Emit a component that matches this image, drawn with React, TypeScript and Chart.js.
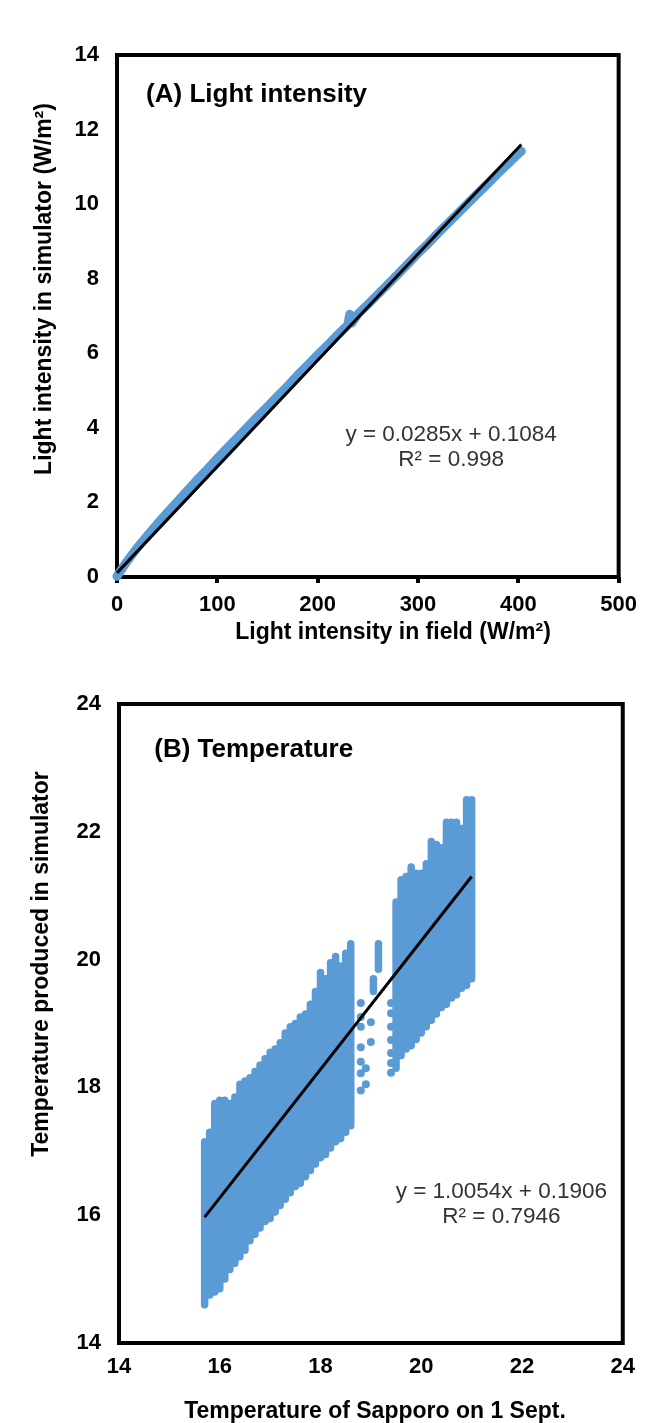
import React, { useEffect, useRef } from "react";
import { Chart, registerables } from "chart.js";

Chart.register(...registerables);

const BLUE = "#5B9BD5";
const FONT = '"Liberation Sans", Arial, Helvetica, sans-serif';

// ---------- Panel A: light intensity ----------
const lightField = [0, 5, 10, 20, 30, 40, 50, 60, 70, 80, 90, 100, 110, 120, 130, 140, 150, 160, 170, 180, 190, 200, 210, 220, 230, 232, 234, 240, 250, 260, 270, 280, 290, 300, 310, 320, 330, 340, 350, 360, 370, 380, 390, 400, 403];
const lightSimulator = [0.02, 0.22, 0.42, 0.78, 1.1, 1.42, 1.72, 2.02, 2.31, 2.61, 2.89, 3.18, 3.46, 3.74, 4.02, 4.3, 4.57, 4.85, 5.12, 5.41, 5.68, 5.96, 6.22, 6.5, 6.76, 7.05, 6.81, 7.05, 7.31, 7.58, 7.85, 8.12, 8.4, 8.68, 8.94, 9.22, 9.49, 9.76, 10.03, 10.3, 10.56, 10.83, 11.09, 11.35, 11.42];
const trendAX = [0, 403];
const trendAY = [0.11, 11.6];
const axisA = { xMin: 0, xMax: 500, xStep: 100, yMin: 0, yMax: 14, yStep: 2 };
const equationA = ["y = 0.0285x + 0.1084", "R² = 0.998"];

// ---------- Panel B: temperature ----------
const tempColumnX = [15.7, 15.8, 15.9, 16.0, 16.1, 16.2, 16.3, 16.4, 16.5, 16.6, 16.7, 16.8, 16.9, 17.0, 17.1, 17.2, 17.3, 17.4, 17.5, 17.6, 17.7, 17.8, 17.9, 18.0, 18.1, 18.2, 18.3, 18.4, 18.5, 18.6, 19.05, 19.15, 19.5, 19.6, 19.7, 19.8, 19.9, 20.0, 20.1, 20.2, 20.3, 20.4, 20.5, 20.6, 20.7, 20.8, 20.9, 21.0];
const tempColumnLow = [14.6, 14.75, 14.8, 14.85, 15.0, 15.15, 15.25, 15.35, 15.45, 15.6, 15.7, 15.8, 15.9, 15.95, 16.05, 16.15, 16.25, 16.35, 16.45, 16.5, 16.6, 16.7, 16.8, 16.9, 16.95, 17.05, 17.15, 17.2, 17.3, 17.4, 19.5, 19.85, 18.3, 18.5, 18.6, 18.65, 18.75, 18.85, 18.95, 19.05, 19.15, 19.25, 19.3, 19.4, 19.45, 19.55, 19.6, 19.7];
const tempColumnHigh = [17.15, 17.3, 17.75, 17.8, 17.8, 17.75, 17.85, 18.05, 18.1, 18.15, 18.25, 18.35, 18.45, 18.55, 18.6, 18.7, 18.85, 18.95, 19.0, 19.1, 19.15, 19.3, 19.5, 19.8, 19.7, 19.95, 20.05, 19.9, 20.1, 20.25, 19.7, 20.25, 20.9, 21.25, 21.3, 21.45, 21.35, 21.35, 21.5, 21.85, 21.8, 21.75, 22.15, 22.15, 22.15, 22.05, 22.5, 22.5];
const tempSparseX = [18.8, 18.8, 18.8, 18.8, 18.8, 18.8, 18.8, 18.9, 18.9, 19.0, 19.0, 19.4, 19.4, 19.4, 19.4, 19.4, 19.4, 19.4];
const tempSparseY = [17.95, 18.22, 18.4, 18.63, 18.95, 19.1, 19.32, 18.05, 18.3, 18.71, 19.02, 18.23, 18.38, 18.54, 18.74, 18.95, 19.16, 19.32];
const trendBX = [15.7, 21.0];
const trendBY = [15.97, 21.3];
const axisB = { xMin: 14, xMax: 24, xStep: 2, yMin: 14, yMax: 24, yStep: 2 };
const equationB = ["y = 1.0054x + 0.1906", "R² = 0.7946"];

type TextItem = {
  text: string;
  x: number;
  y: number;
  font: string;
  color: string;
  align: CanvasTextAlign;
  rotate?: boolean;
  data?: boolean;
};

function textPlugin(items: TextItem[]) {
  return {
    id: "freeTexts",
    afterDraw(chart: any) {
      const ctx = chart.ctx;
      items.forEach((t) => {
        let px = t.x;
        let py = t.y;
        if (t.data) {
          px = chart.scales.x.getPixelForValue(t.x);
          py = chart.scales.y.getPixelForValue(t.y);
        }
        ctx.save();
        ctx.font = t.font;
        ctx.fillStyle = t.color;
        ctx.textAlign = t.align;
        ctx.textBaseline = "middle";
        ctx.translate(px, py);
        if (t.rotate) ctx.rotate(-Math.PI / 2);
        ctx.fillText(t.text, 0, 0);
        ctx.restore();
      });
    },
  };
}

const framePlugin = {
  id: "frame",
  beforeDatasetsDraw(chart: any) {
    const { ctx, chartArea } = chart;
    ctx.save();
    ctx.strokeStyle = "#000";
    ctx.lineWidth = 4;
    ctx.strokeRect(chartArea.left, chartArea.top, chartArea.right - chartArea.left, chartArea.bottom - chartArea.top);
    ctx.restore();
  },
};

const tickFont = { family: FONT, size: 22, weight: "bold" as const };
const titleFont = `bold 23px ${FONT}`;
const panelFont = `bold 26px ${FONT}`;
const eqFont = `22.5px ${FONT}`;

function makeScales(ax: any, yWidth: number, xHeight: number, xTickMarks: boolean, xPad: number) {
  return {
    x: {
      type: "linear",
      min: ax.xMin,
      max: ax.xMax,
      ticks: { stepSize: ax.xStep, font: tickFont, color: "#000", padding: xPad, maxRotation: 0 },
      grid: {
        display: xTickMarks,
        drawOnChartArea: false,
        drawTicks: xTickMarks,
        tickLength: 6,
        lineWidth: 4,
        color: "#000",
      },
      border: { display: false },
      afterFit: (s: any) => {
        s.height = xHeight;
      },
    },
    y: {
      type: "linear",
      min: ax.yMin,
      max: ax.yMax,
      ticks: { stepSize: ax.yStep, font: tickFont, color: "#000", padding: 18 },
      grid: { display: false, drawTicks: false },
      border: { display: false },
      afterFit: (s: any) => {
        s.width = yWidth;
      },
    },
  };
}

export default function App() {
  const refA = useRef<HTMLCanvasElement>(null);
  const refB = useRef<HTMLCanvasElement>(null);

  useEffect(() => {
    const bandA = lightField.map((x, i) => ({ x, y: lightSimulator[i] }));
    const lineA = trendAX.map((x, i) => ({ x, y: trendAY[i] }));

    const textsA: TextItem[] = [
      { text: "(A) Light intensity", x: 29, y: 12.93, font: panelFont, color: "#000", align: "left", data: true },
      { text: equationA[0], x: 333, y: 3.81, font: eqFont, color: "#333", align: "center", data: true },
      { text: equationA[1], x: 333, y: 3.14, font: eqFont, color: "#333", align: "center", data: true },
      { text: "Light intensity in field (W/m²)", x: 393, y: 633, font: titleFont, color: "#000", align: "center" },
      { text: "Light intensity in simulator (W/m²)", x: 45, y: 289, font: titleFont, color: "#000", align: "center", rotate: true },
    ];

    const chartA = new Chart(refA.current as HTMLCanvasElement, {
      type: "line",
      data: {
        datasets: [
          {
            data: lineA,
            borderColor: "#000",
            borderWidth: 3,
            pointRadius: 0,
            clip: false,
          },
          {
            data: bandA,
            borderColor: BLUE,
            borderWidth: 9,
            borderCapStyle: "round",
            borderJoinStyle: "round",
            pointRadius: 0,
            clip: false,
          },
        ],
      } as any,
      options: {
        animation: false,
        responsive: false,
        maintainAspectRatio: false,
        events: [],
        layout: { padding: { left: 0, right: 19, top: 55, bottom: 23 } },
        plugins: { legend: { display: false }, tooltip: { enabled: false } },
        scales: makeScales(axisA, 117, 60, true, 9) as any,
      },
      plugins: [framePlugin, textPlugin(textsA)],
    });

    const columns: any[] = [];
    tempColumnX.forEach((x, i) => {
      columns.push({ x, y: tempColumnLow[i] }, { x, y: tempColumnHigh[i] }, { x, y: null });
    });
    const sparse = tempSparseX.map((x, i) => ({ x, y: tempSparseY[i] }));
    const lineB = trendBX.map((x, i) => ({ x, y: trendBY[i] }));

    const textsB: TextItem[] = [
      { text: "(B) Temperature", x: 14.7, y: 23.28, font: panelFont, color: "#000", align: "left", data: true },
      { text: equationB[0], x: 21.59, y: 16.36, font: eqFont, color: "#333", align: "center", data: true },
      { text: equationB[1], x: 21.59, y: 15.97, font: eqFont, color: "#333", align: "center", data: true },
      { text: "Temperature of Sapporo on 1 Sept.", x: 375, y: 752, font: titleFont, color: "#000", align: "center" },
      { text: "Temperature produced in simulator", x: 42, y: 304, font: titleFont, color: "#000", align: "center", rotate: true },
    ];

    const chartB = new Chart(refB.current as HTMLCanvasElement, {
      type: "line",
      data: {
        datasets: [
          {
            data: lineB,
            borderColor: "#000",
            borderWidth: 3,
            pointRadius: 0,
          },
          {
            data: sparse,
            showLine: false,
            pointRadius: 4,
            pointBorderWidth: 0,
            pointBackgroundColor: BLUE,
            borderColor: BLUE,
          },
          {
            data: columns,
            borderColor: BLUE,
            borderWidth: 7.5,
            borderCapStyle: "round",
            borderJoinStyle: "round",
            pointRadius: 0,
            spanGaps: false,
          },
        ],
      } as any,
      options: {
        animation: false,
        responsive: false,
        maintainAspectRatio: false,
        events: [],
        layout: { padding: { left: 0, right: 13, top: 44, bottom: 20 } },
        plugins: { legend: { display: false }, tooltip: { enabled: false } },
        scales: makeScales(axisB, 119, 60, false, 11) as any,
      },
      plugins: [framePlugin, textPlugin(textsB)],
    });

    return () => {
      chartA.destroy();
      chartB.destroy();
    };
  }, []);

  return (
    <div style={{ position: "absolute", left: 0, top: 0, width: 646, height: 1423, background: "#fff" }}>
      <canvas ref={refA} width={646} height={660} style={{ position: "absolute", left: 0, top: 0, width: 646, height: 660, display: "block" }} />
      <canvas ref={refB} width={646} height={763} style={{ position: "absolute", left: 0, top: 660, width: 646, height: 763, display: "block" }} />
    </div>
  );
}
